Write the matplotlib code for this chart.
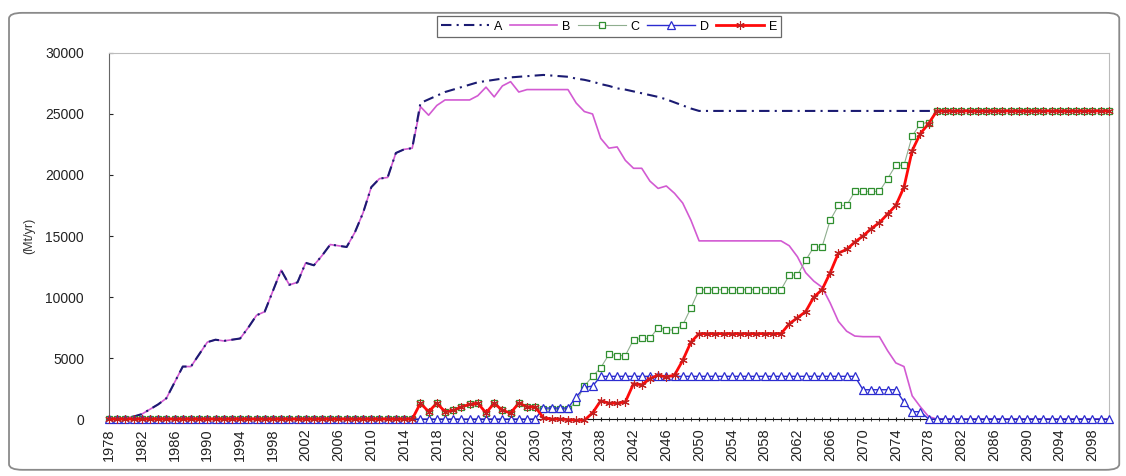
import matplotlib.pyplot as plt
import numpy as np
from matplotlib.patches import FancyBboxPatch

plt.rcParams["font.family"] = ["Liberation Sans", "DejaVu Sans"]

# yearly series, 1978-2100
years = np.arange(1978, 2101)

a_vals = (
    [0, 0, 100, 200, 400, 800, 1200, 1700, 3000, 4300,
     4300, 5300, 6300, 6500, 6400, 6500, 6600, 7500, 8500, 8800,
     10500, 12200, 11000, 11200, 12800, 12600, 13400, 14300, 14200, 14100,
     15300, 16900, 19000, 19700, 19800, 21800, 22100, 22200]            # 1978-2015
    + [25900, 26200, 26500, 26800, 27000, 27200, 27400, 27600, 27700, 27800,
       27900, 28000, 28050, 28100, 28150, 28200, 28150, 28100, 28050, 27900,
       27800, 27650, 27450, 27300, 27100, 27000, 26850, 26700, 26550, 26400,
       26200, 25950, 25700, 25450]                                        # 2016-2049
    + [25250] * 51                                                        # 2050-2100
)

b_vals = (
    a_vals[:38]                                                           # 1978-2015
    + [25600, 24900, 25700, 26150, 26150, 26150, 26150, 26500, 27200, 26400,
       27300, 27650, 26800, 27000, 27000, 27000, 27000, 27000, 27000, 25900,
       25200, 25000, 23000, 22200, 22300, 21200, 20550, 20550, 19500, 18900,
       19100, 18500, 17700, 16300]                                        # 2016-2049
    + [14600] * 11                                                        # 2050-2060
    + [14200, 13300, 12000, 11300, 10800, 9500, 8000, 7200, 6800, 6750,
       6750, 6750, 5600, 4600, 4300, 1900, 1000, 200]                     # 2061-2078
    + [0] * 22                                                            # 2079-2100
)

early_ce = [0, 1300, 600, 1300, 600, 700, 1000, 1200, 1300, 500,
            1300, 700, 500, 1300, 1000, 1000]                             # 2015-2030

c_vals = (
    [0] * 37                                                              # 1978-2014
    + early_ce
    + [800, 800, 800, 800, 1400, 2700, 3500, 4200, 5300, 5200,
       5200, 6500, 6600, 6600, 7500, 7300, 7300, 7700, 9100]              # 2031-2049
    + [10600] * 11                                                        # 2050-2060
    + [11800, 11800, 13000, 14100, 14100, 16300, 17500, 17500, 18650, 18650,
       18650, 18650, 19700, 20800, 20800, 23200, 24200, 24300]            # 2061-2078
    + [25250] * 22                                                        # 2079-2100
)

d_vals = (
    [0] * 53                                                              # 1978-2030
    + [900, 900, 900, 900, 1800, 2600, 2700]                              # 2031-2037
    + [3500] * 32                                                         # 2038-2069
    + [2400, 2400, 2400, 2400, 2400, 1400, 600, 600]                      # 2070-2077
    + [0] * 23                                                            # 2078-2100
)

e_vals = (
    [0] * 37                                                              # 1978-2014
    + early_ce
    + [100, 0, 0, -50, -100, -100, 500, 1500, 1300, 1300,
       1400, 2900, 2800, 3300, 3600, 3450, 3600, 4800, 6300]              # 2031-2049
    + [7000] * 11                                                         # 2050-2060
    + [7800, 8300, 8800, 10000, 10600, 12000, 13600, 13900, 14500, 15000,
       15600, 16100, 16800, 17500, 19000, 22000, 23400, 24200]            # 2061-2078
    + [25250] * 22                                                        # 2079-2100
)

series_names = ["A", "B", "C", "D", "E"]

fig = plt.figure(figsize=(11.26, 4.76), dpi=100)
ax = fig.add_axes([0.0968, 0.1197, 0.888, 0.769])

# rounded chart border
border = FancyBboxPatch((0.008, 0.013), 0.986, 0.96, transform=fig.transFigure,
                        boxstyle="round,pad=0,rounding_size=0.012",
                        fc="none", ec="#8a8a8a", lw=1.3)
fig.patches.append(border)

ax.plot(years, b_vals, color="#d25ad2", lw=1.2, label=series_names[1], zorder=3)
ax.plot(years, a_vals, color="#1b1b72", lw=1.5, ls=(0, (5, 2.5, 1, 2.5)),
        label=series_names[0], zorder=3.5)
ax.plot(years, c_vals, color="#8fae8f", lw=0.8, marker="s", ms=4.5,
        mfc="white", mec="#2f8f2f", mew=0.9, label=series_names[2], zorder=4,
        clip_on=False)
ax.plot(years, d_vals, color="#2b2bd0", lw=1.0, marker="^", ms=5.5,
        mfc="white", mec="#2b2bd0", mew=0.9, label=series_names[3], zorder=5,
        clip_on=False)
ax.plot(years, e_vals, color="#ff0a0a", lw=2.0, marker=(6, 2, 0), ms=6,
        mec="#c02020", mew=0.8, label=series_names[4], zorder=6, clip_on=False)

ax.set_xlim(1978, 2100)
ax.set_ylim(0, 30000)
ax.set_yticks(np.arange(0, 30001, 5000))
ax.set_xticks(np.arange(1978, 2101, 4))
ax.set_xticks(years, minor=True)
ax.tick_params(axis="x", which="major", rotation=90, labelsize=10.5,
               length=3, direction="inout", colors="#222222", pad=5)
ax.tick_params(axis="x", which="minor", length=3, direction="inout", color="#222222")
ax.tick_params(axis="y", labelsize=10, length=3, direction="in", colors="#222222", pad=18)
ax.set_ylabel("(Mt/yr)", fontsize=9, color="#333333", labelpad=7)

ax.spines["bottom"].set_color("#111111")
ax.spines["left"].set_color("#666666")
ax.spines["top"].set_color("#bbbbbb")
ax.spines["right"].set_color("#bbbbbb")
ax.spines["bottom"].set_zorder(1)

handles, labels = ax.get_legend_handles_labels()
order = [1, 0, 2, 3, 4]
leg = fig.legend([handles[i] for i in order], [labels[i] for i in order],
                 loc="center", bbox_to_anchor=(0.541, 0.944), ncol=5, fontsize=9,
                 handlelength=3.8, handletextpad=0.4, columnspacing=0.6,
                 frameon=True, fancybox=False, borderpad=0.35)
leg.get_frame().set_edgecolor("#444444")
leg.get_frame().set_linewidth(0.9)

fig.savefig("out.png", dpi=100)
